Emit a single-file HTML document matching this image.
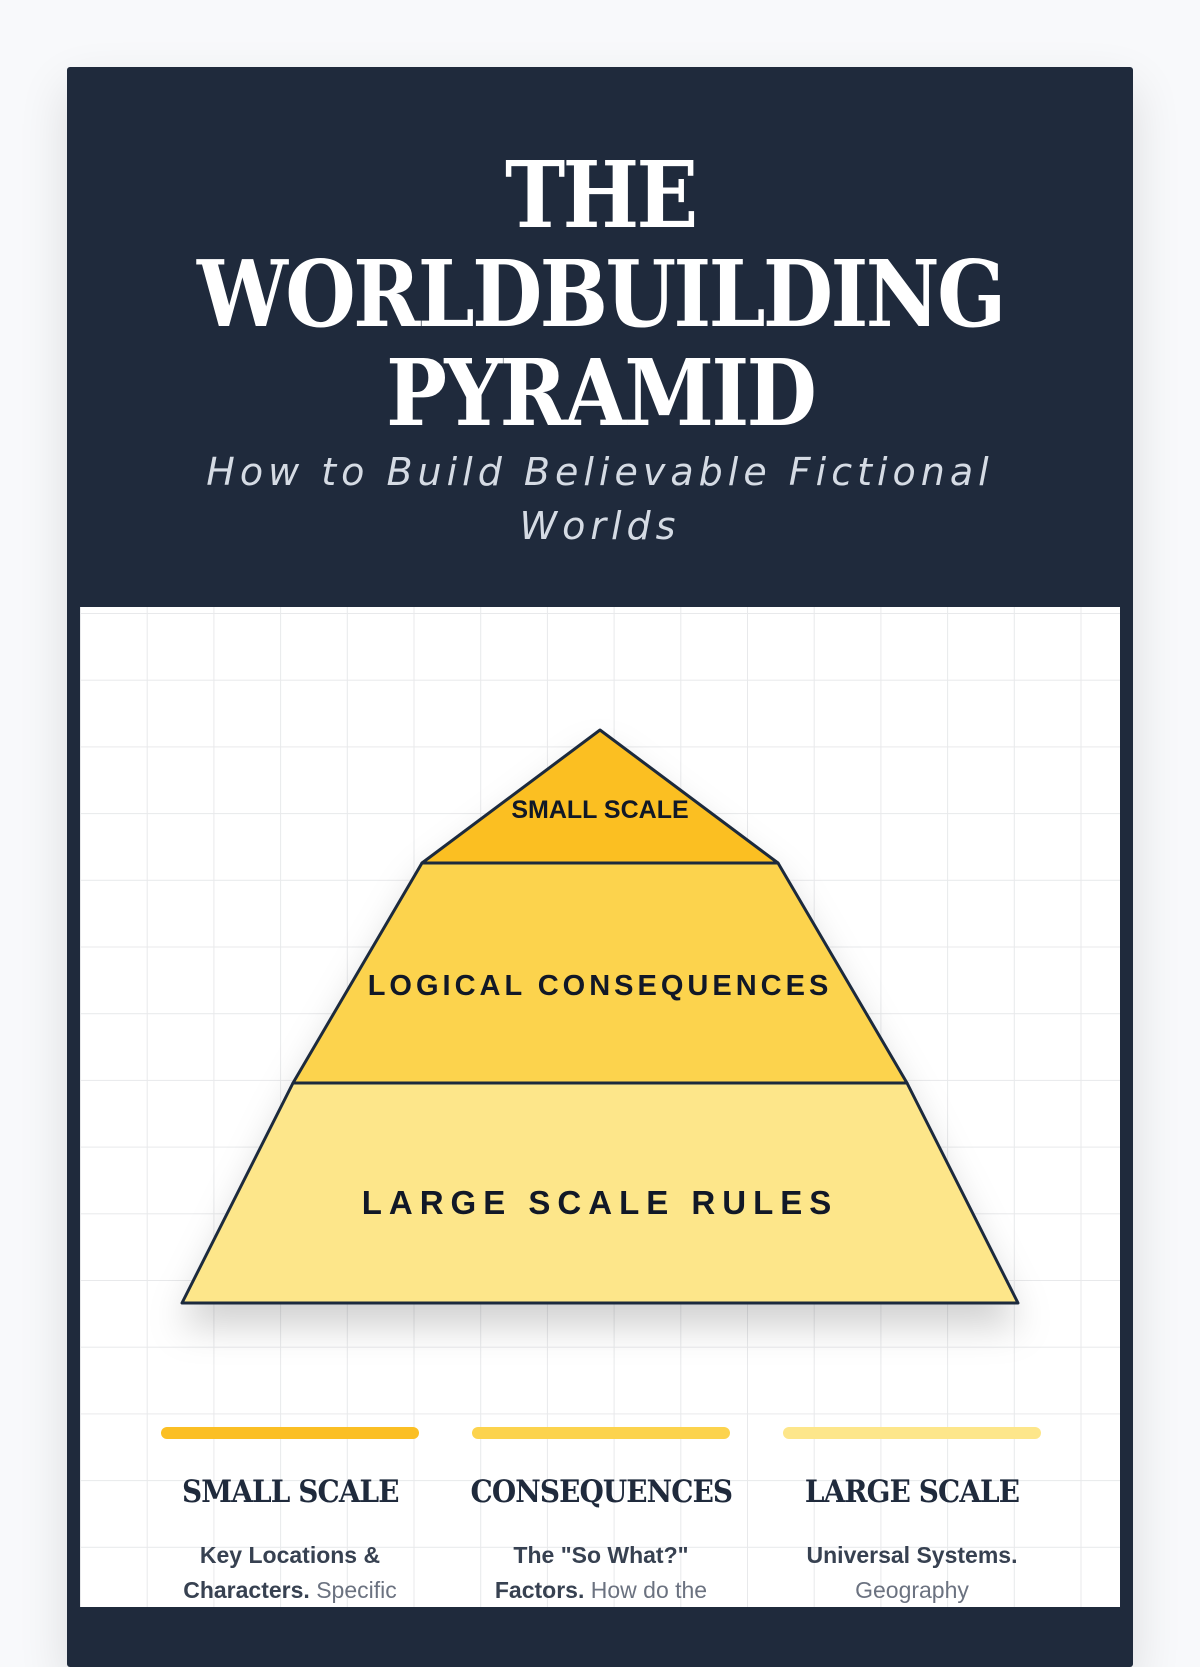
<!DOCTYPE html>
<html><head><meta charset="utf-8"><style>
html,body{margin:0;padding:0;}
body{width:1200px;height:1600px;overflow:hidden;background:#f8f9fb;position:relative;font-family:"Liberation Sans",sans-serif;}
.card{position:absolute;left:67px;top:67px;width:1066px;height:1600px;background:#1f2a3c;border-radius:3px;box-shadow:0 20px 50px rgba(0,0,0,0.12);}
.title{position:absolute;left:67px;width:1066px;top:146px;text-align:center;color:#fff;font-family:"DejaVu Serif",serif;font-weight:bold;font-size:92px;line-height:99px;letter-spacing:-3px;}
.title span{display:inline-block;transform:scaleX(0.88);transform-origin:center;white-space:nowrap;}
.sub{position:absolute;left:67px;width:1066px;top:445px;text-align:center;color:#d5dbe4;font-family:"DejaVu Sans","Liberation Sans",sans-serif;font-style:italic;font-size:38px;line-height:54px;letter-spacing:5px;}
.panel{position:absolute;left:80px;top:607px;width:1040px;height:1000px;background:#fff;overflow:hidden;}
.col{position:absolute;top:1427px;width:258px;text-align:center;}
.bar{height:12px;border-radius:6px;}
.col h3{margin:33px -30px 0;font-family:"DejaVu Serif",serif;font-weight:bold;font-size:31px;color:#1f2a3c;line-height:40px;letter-spacing:-1px;}
.col h3 span{display:inline-block;transform:scaleX(0.9);}
.col p{margin:26px 0 0;font-size:23px;line-height:35px;color:#6b7280;}
.col p b{color:#374151;}
</style></head><body>
<div class="card"></div>
<div class="title"><span>THE</span><br><span>WORLDBUILDING</span><br><span>PYRAMID</span></div>
<div class="sub">How to Build Believable Fictional<br>Worlds</div>
<div class="panel">
<svg width="1040" height="1000" viewBox="80 607 1040 1000" xmlns="http://www.w3.org/2000/svg">
<defs>
<filter id="sh" x="-20%" y="-20%" width="140%" height="150%"><feDropShadow dx="0" dy="22" stdDeviation="18" flood-color="#000" flood-opacity="0.18"/></filter>
<pattern id="g" x="81" y="614" width="66.7" height="66.7" patternUnits="userSpaceOnUse">
<path d="M66.7 0V66.7M0 66.7H66.7" stroke="#e8e9eb" stroke-width="2" fill="none"/>
</pattern>
</defs>
<rect x="80" y="607" width="1040" height="1000" fill="url(#g)"/>
<g filter="url(#sh)">
<polygon points="182,1303 1018,1303 907,1083 293,1083" fill="#fde68a" stroke="#1f2a3c" stroke-width="3" stroke-linejoin="round"/>
<polygon points="293,1083 907,1083 778,863 422,863" fill="#fcd34d" stroke="#1f2a3c" stroke-width="3" stroke-linejoin="round"/>
<polygon points="422,863 778,863 600,730" fill="#fbbf24" stroke="#1f2a3c" stroke-width="3" stroke-linejoin="round"/>
</g>
<g font-family="Liberation Sans, sans-serif" font-weight="bold" fill="#111827" text-anchor="middle">
<text x="600" y="818" font-size="25">SMALL SCALE</text>
<text x="600" y="995" font-size="29" letter-spacing="4">LOGICAL CONSEQUENCES</text>
<text x="600" y="1214" font-size="33" letter-spacing="7">LARGE SCALE RULES</text>
</g>
</svg>
</div>
<div class="col" style="left:161px"><div class="bar" style="background:#fbbf24"></div><h3><span>SMALL SCALE</span></h3><p><b>Key Locations &amp; Characters.</b> Specific</p></div>
<div class="col" style="left:472px"><div class="bar" style="background:#fcd34d"></div><h3><span>CONSEQUENCES</span></h3><p><b>The "So What?" Factors.</b> How do the</p></div>
<div class="col" style="left:783px"><div class="bar" style="background:#fde68a"></div><h3><span>LARGE SCALE</span></h3><p><b>Universal Systems.</b> Geography</p></div>
</body></html>
